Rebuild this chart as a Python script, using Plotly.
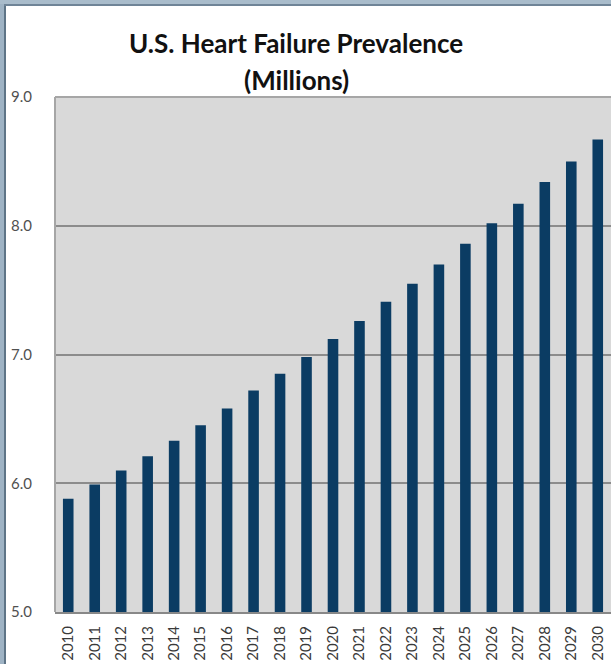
import plotly.graph_objects as go

years = [str(y) for y in range(2010, 2031)]
prevalence = [5.88, 5.99, 6.10, 6.21, 6.33, 6.45, 6.58, 6.72, 6.85, 6.98,
              7.12, 7.26, 7.41, 7.55, 7.70, 7.86, 8.02, 8.17, 8.34, 8.50, 8.67]
y_ticks = [5.0, 6.0, 7.0, 8.0, 9.0]
y_tick_labels = ["5.0", "6.0", "7.0", "8.0", "9.0"]
title_line1 = "U.S. Heart Failure Prevalence"
title_line2 = "(Millions)"

W, H = 611, 664
ML, MR, MT, MB = 55, 0, 97, 52
PW, PH = W - ML - MR, H - MT - MB


def px_x(px):
    return (px - ML) / PW


def px_y(py):
    return (H - MB - py) / PH


fig = go.Figure(go.Bar(
    x=years, y=prevalence,
    marker=dict(color="#0b3c63", line=dict(width=0)),
    hoverinfo="x+y",
))

shapes = [
    # slide frame (left and top)
    dict(type="rect", xref="paper", yref="paper", x0=px_x(0), x1=px_x(4), y0=px_y(H), y1=px_y(0),
         fillcolor="#9fb3c4", line=dict(width=0), layer="above"),
    dict(type="rect", xref="paper", yref="paper", x0=px_x(4), x1=px_x(6), y0=px_y(H), y1=px_y(4),
         fillcolor="#5f7587", line=dict(width=0), layer="above"),
    dict(type="rect", xref="paper", yref="paper", x0=px_x(0), x1=px_x(W), y0=px_y(4), y1=px_y(0),
         fillcolor="#a9bccb", line=dict(width=0), layer="above"),
    dict(type="rect", xref="paper", yref="paper", x0=px_x(4), x1=px_x(W), y0=px_y(6), y1=px_y(4),
         fillcolor="#6f8497", line=dict(width=0), layer="above"),
    # plot area border (left/top)
    dict(type="line", xref="paper", yref="paper", x0=0, x1=0, y0=0, y1=1,
         line=dict(color="#a6a6a6", width=2), layer="above"),
    dict(type="line", xref="paper", yref="paper", x0=0, x1=1, y0=1, y1=1,
         line=dict(color="#a6a6a6", width=2), layer="above"),
]

fig.update_layout(
    width=W, height=H,
    margin=dict(l=ML, r=MR, t=MT, b=MB, pad=0),
    paper_bgcolor="white",
    plot_bgcolor="#d9d9d9",
    showlegend=False,
    bargap=0.6,
    shapes=shapes,
    annotations=[
        dict(text="<b>" + title_line1 + "</b>", xref="paper", yref="paper",
             x=px_x(296), y=px_y(43), xanchor="center", yanchor="middle", showarrow=False,
             font=dict(family="Lato", size=26, color="#111111")),
        dict(text="<b>" + title_line2 + "</b>", xref="paper", yref="paper",
             x=px_x(296), y=px_y(80), xanchor="center", yanchor="middle", showarrow=False,
             font=dict(family="Lato", size=26, color="#111111")),
    ],
    xaxis=dict(
        type="category", tickangle=-90,
        tickfont=dict(family="Lato", size=15, color="#3a3a3a"),
        showline=True, linecolor="#888888", linewidth=2,
        ticks="", showgrid=False, ticklabelstandoff=6,
    ),
    yaxis=dict(
        range=[5.0, 9.0], tickvals=y_ticks, ticktext=y_tick_labels,
        tickfont=dict(family="Lato", size=15, color="#505050"),
        showgrid=True, gridcolor="#8c8c8c", gridwidth=2,
        zeroline=False, showline=False, ticks="",
        ticklabelstandoff=22,
    ),
)

fig.write_html("out.html", config={"displayModeBar": False},
               post_script="document.body.style.margin='0';document.body.style.overflow='hidden';")
